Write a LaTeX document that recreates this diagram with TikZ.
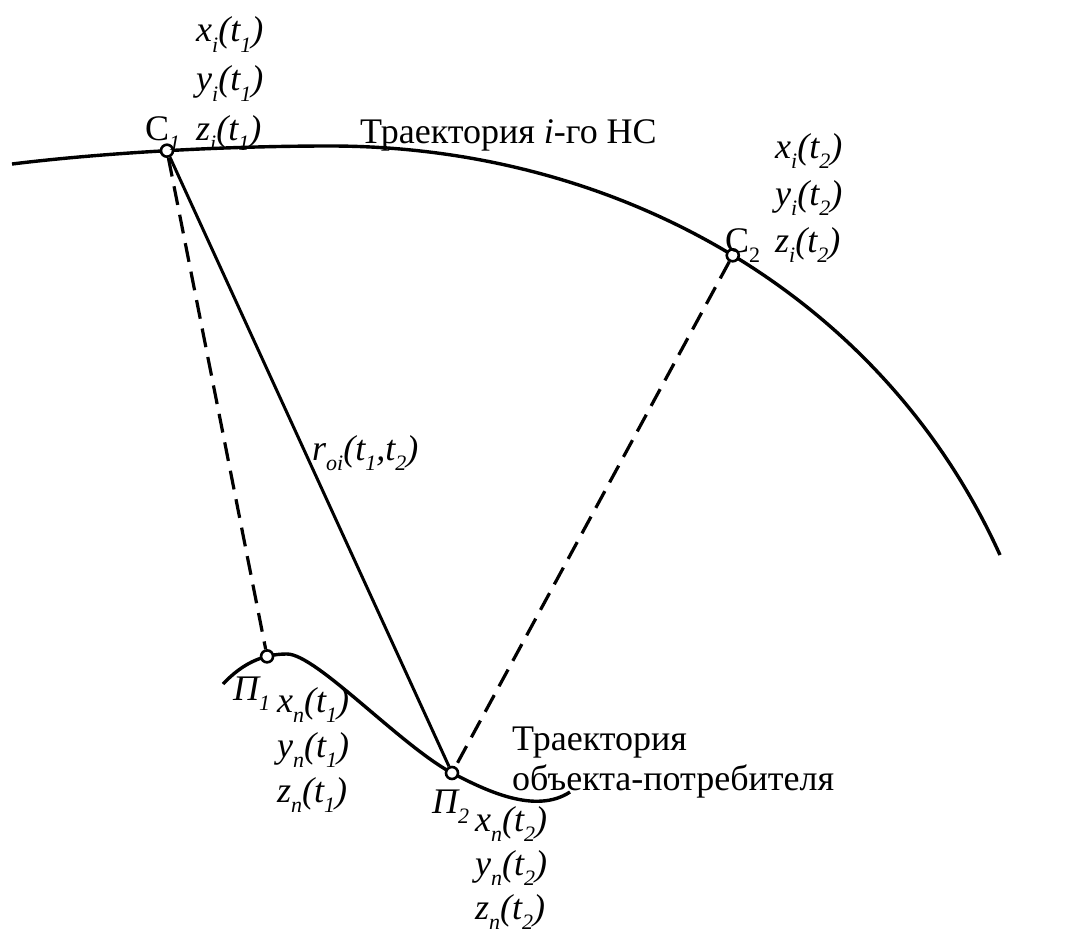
\documentclass[tikz,border=0pt]{standalone}
\usepackage{fontspec}
\setmainfont{Liberation Serif}
\newfontfamily\tms{Liberation Serif}
\newcommand\sbs[1]{\raisebox{-0.28em}{\fontsize{22}{22}\selectfont #1}}
\newcommand\coordlab[3]{\textit{#1\sbs{#2}(t\sbs{#3})}}
\begin{document}
\begin{tikzpicture}[x=1pt,y=-1pt,
  txt/.style={anchor=base west,inner sep=0pt,font=\tms\fontsize{36}{40}\selectfont},
  traj/.style={line width=3.4pt},
  ray/.style={line width=3pt},
  dray/.style={line width=3.2pt,dash pattern=on 19pt off 10pt},
  pnt/.style={circle,draw,fill=white,line width=2.6pt,minimum size=12pt,inner sep=0pt}]
\useasboundingbox (0,0) rectangle (1080,934);
% trajectories
\draw[traj] (12,164) .. controls (110,152) and (230,146) .. (330,146)
  coordinate[pos=0.49] (c1)
  .. controls (612,146) and (880,290) .. (1000,555)
  coordinate[pos=0.51] (c2);
\draw[traj] (223,684) .. controls (242,664) and (262,654) .. (287,654)
  coordinate[pos=0.72] (p1)
  .. controls (316,654) and (400,745) .. (452,773)
  coordinate[pos=1] (p2)
  .. controls (485,790) and (535,815) .. (570,792);
% points
\node[pnt] (C1) at (c1) {};
\node[pnt] (C2) at (c2) {};
\node[pnt] (P1) at (p1) {};
\node[pnt] (P2) at (p2) {};
% connectors
\draw[dray] (C1) -- (P1);
\draw[ray] (C1) -- (P2);
\draw[dray] (C2) -- (P2);
% labels satellite
\node[txt] (lC1) at (145,140) {С\sbs{\textit{1}}};
\node[txt] (x1) at (196,42) {\coordlab{x}{i}{1}};
\node[txt] (y1) at (196,91) {\coordlab{y}{i}{1}};
\node[txt] (z1) at (196,140) {\coordlab{z}{i}{1}};
\node[txt] (tr1) at (360,143) {Траектория \textit{i}-го НС};
\node[txt] (lC2) at (725,252) {С\sbs{2}};
\node[txt] (x2) at (775,158) {\coordlab{x}{i}{2}};
\node[txt] (y2) at (775,205) {\coordlab{y}{i}{2}};
\node[txt] (z2) at (775,252) {\coordlab{z}{i}{2}};
\node[txt] (r) at (312,460) {\textit{r\sbs{oi}(t\sbs{1},t\sbs{2})}};
% labels user
\node[txt] (lP1) at (233,700) {\textit{П\sbs{1}}};
\node[txt] (xn1) at (277,712) {\coordlab{x}{n}{1}};
\node[txt] (yn1) at (277,757) {\coordlab{y}{n}{1}};
\node[txt] (zn1) at (277,802) {\coordlab{z}{n}{1}};
\node[txt] (lP2) at (432,813) {\textit{П\sbs{2}}};
\node[txt] (xn2) at (475,831) {\coordlab{x}{n}{2}};
\node[txt] (yn2) at (475,875) {\coordlab{y}{n}{2}};
\node[txt] (zn2) at (475,919) {\coordlab{z}{n}{2}};
\node[txt] (tr2a) at (512,750) {Траектория};
\node[txt] (tr2b) at (512,790) {объекта-потребителя};
\end{tikzpicture}
\end{document}
